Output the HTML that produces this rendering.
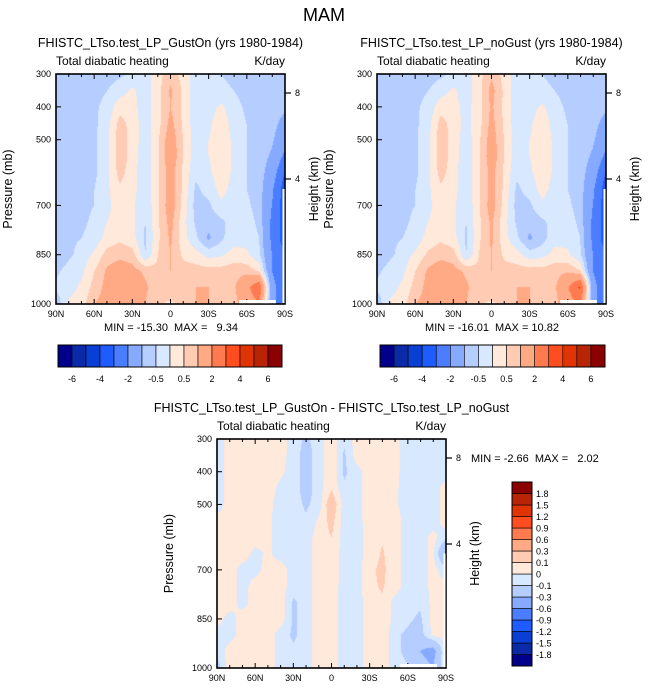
<!DOCTYPE html>
<html><head><meta charset="utf-8">
<style>
html,body{margin:0;padding:0;background:#fff;}
#root{position:relative;width:648px;height:693px;overflow:hidden;font-family:"Liberation Sans",Arial,sans-serif;}
canvas{position:absolute;}
svg{position:absolute;left:0;top:0;}
text{white-space:pre;}
</style></head>
<body>
<div id="root">
<canvas id="c1" width="229" height="230" style="left:56px;top:74px"></canvas>
<canvas id="c2" width="229" height="230" style="left:377px;top:74px"></canvas>
<canvas id="c3" width="229" height="229" style="left:217px;top:439px"></canvas>
<svg id="ov" width="648" height="693"></svg>
</div>
<script>
// ---- data ----
const latLabels = ["90N","60N","30N","0","30S","60S","90S"];
const pressureTicks = [300,400,500,700,850,1000];
const lats = [90,80,70,60,50,40,30,20,10,0,-10,-20,-30,-40,-50,-60,-70,-80,-90];
const levelsP = [300,350,400,450,500,550,600,650,700,750,800,850,900,950,1000];
const levelsMain = [-6,-5,-4,-3,-2,-1,-0.5,0,0.5,1,2,3,4,5,6];
const mainBarLabels = ["-6","-4","-2","-0.5","0.5","2","4","6"];
const levelsDiff = [-1.8,-1.5,-1.2,-0.9,-0.6,-0.3,-0.1,0,0.1,0.3,0.6,0.9,1.2,1.5,1.8];
const diffBarLabels = ["-1.8","-1.5","-1.2","-0.9","-0.6","-0.3","-0.1","0","0.1","0.3","0.6","0.9","1.2","1.5","1.8"];
const colors = ["#00008b","#0a2aa8","#0a3fd6","#1f5cff","#4a7eff","#86aaff","#b5cdff","#d8e8ff","#ffe9da","#ffcbb3","#ffa985","#ff7a4f","#ff4d1f","#e03405","#b82506","#8b0000"];
const heightTicks = [8,4];
const heightTickY = [93,179];
const statsA = ["-15.30","9.34"];
const statsB = ["-16.01","10.82"];
const statsC = ["-2.66","2.02"];
const gridA = [
[-0.7,-0.7,-0.7,-0.7,-0.7,-0.6,-0.4,-0.3,0.3,0.8,0.3,-0.3,-0.4,-0.5,-0.6,-0.7,-0.7,-0.7,-0.8],
[-0.7,-0.7,-0.7,-0.7,-0.5,-0.2,0.1,-0.3,0.3,1.1,0.4,-0.3,-0.3,-0.4,-0.5,-0.7,-0.7,-0.7,-0.8],
[-0.7,-0.7,-0.7,-0.6,-0.3,0.3,0.2,-0.3,0.3,1.0,0.4,-0.3,-0.2,0.1,-0.3,-0.6,-0.7,-0.7,-0.9],
[-0.7,-0.7,-0.7,-0.6,-0.2,0.7,0.3,-0.3,0.3,1.2,0.4,-0.3,-0.1,0.3,-0.2,-0.5,-0.7,-0.8,-1.2],
[-0.7,-0.7,-0.7,-0.6,-0.1,0.8,0.3,-0.3,0.4,1.4,0.5,-0.3,0.0,0.3,-0.1,-0.5,-0.7,-0.9,-1.5],
[-0.7,-0.7,-0.7,-0.6,-0.1,0.8,0.3,-0.4,0.4,1.5,0.5,-0.3,0.0,0.3,-0.1,-0.5,-0.7,-1.1,-2.2],
[-0.7,-0.7,-0.7,-0.6,-0.1,0.7,0.2,-0.4,0.4,1.3,0.4,-0.4,-0.1,0.3,-0.1,-0.5,-0.7,-1.4,-3],
[-0.7,-0.7,-0.6,-0.5,-0.1,0.4,0.2,-0.4,0.4,1.3,0.4,-0.6,-0.3,0.2,-0.2,-0.5,-0.7,-1.8,-3.5],
[-0.7,-0.7,-0.6,-0.5,-0.1,0.2,0.1,-0.4,0.4,1.4,0.3,-0.7,-0.6,-0.1,-0.3,-0.4,-0.7,-2,-3.5],
[-0.7,-0.7,-0.6,-0.4,0.0,0.2,0.1,-0.5,0.4,1.2,0.2,-0.6,-0.8,-0.6,-0.3,-0.3,-0.6,-2.2,-3.5],
[-0.7,-0.6,-0.5,-0.3,0.2,0.4,0.2,-0.6,0.4,1.1,0.2,-0.4,-1.1,-0.6,-0.2,-0.2,-0.5,-2.2,-3.5],
[-0.9,-0.6,-0.3,0.1,0.7,0.8,0.7,-0.5,0.5,1.0,0.4,0.2,-0.2,-0.1,0.2,0.1,-0.4,-2,-3],
[-0.6,-0.3,-0.1,0.5,1.1,1.4,1.2,0.9,0.6,1.0,0.7,0.7,0.7,0.7,0.8,0.8,0.4,-2,-3],
[-0.4,-0.2,0.1,0.7,1.2,1.7,1.4,1.1,0.7,0.9,0.9,1.0,1.0,0.9,0.9,1.7,2.8,-1.5,-3],
[-0.8,0.1,0.3,1.0,1.2,1.3,1.2,1.0,0.6,0.4,0.7,1.0,1.0,0.9,0.8,1.4,2.0,-1.5,-3]];
const gridB = [
[-0.7,-0.7,-0.7,-0.7,-0.7,-0.6,-0.4,-0.3,0.3,0.9,0.3,-0.3,-0.4,-0.5,-0.6,-0.7,-0.7,-0.7,-0.8],
[-0.7,-0.7,-0.7,-0.7,-0.5,-0.2,0.1,-0.3,0.3,1.2,0.4,-0.3,-0.3,-0.4,-0.5,-0.7,-0.7,-0.7,-0.8],
[-0.7,-0.7,-0.7,-0.6,-0.3,0.3,0.2,-0.2,0.3,1.1,0.4,-0.3,-0.2,0.1,-0.3,-0.6,-0.7,-0.7,-0.9],
[-0.7,-0.7,-0.7,-0.6,-0.2,0.7,0.3,-0.2,0.3,1.2,0.4,-0.3,-0.1,0.3,-0.2,-0.5,-0.7,-0.8,-1.2],
[-0.7,-0.7,-0.7,-0.6,-0.1,0.8,0.3,-0.3,0.4,1.3,0.5,-0.3,0.0,0.3,-0.1,-0.5,-0.7,-0.9,-1.5],
[-0.7,-0.7,-0.7,-0.6,-0.1,0.8,0.3,-0.4,0.4,1.4,0.5,-0.3,0.0,0.3,-0.1,-0.5,-0.7,-1.1,-2.2],
[-0.7,-0.7,-0.7,-0.6,-0.1,0.7,0.2,-0.4,0.4,1.2,0.4,-0.4,-0.1,0.3,-0.1,-0.5,-0.7,-1.4,-3],
[-0.7,-0.7,-0.6,-0.5,-0.1,0.4,0.2,-0.4,0.4,1.2,0.4,-0.6,-0.3,0.2,-0.2,-0.5,-0.7,-1.8,-3.5],
[-0.7,-0.7,-0.6,-0.5,-0.1,0.2,0.1,-0.4,0.4,1.3,0.3,-0.7,-0.6,-0.1,-0.3,-0.4,-0.7,-2,-3.5],
[-0.7,-0.7,-0.6,-0.4,0.0,0.2,0.1,-0.5,0.4,1.1,0.2,-0.6,-0.8,-0.6,-0.3,-0.3,-0.6,-2.2,-3.5],
[-0.7,-0.6,-0.5,-0.3,0.2,0.4,0.2,-0.6,0.4,1.1,0.2,-0.4,-1.1,-0.7,-0.2,-0.2,-0.5,-2.2,-3.5],
[-0.9,-0.6,-0.3,0.1,0.6,0.8,0.7,-0.5,0.5,1.0,0.4,0.2,-0.3,-0.2,0.2,0.1,-0.4,-2,-3],
[-0.6,-0.3,-0.1,0.5,1.1,1.4,1.2,0.9,0.6,1.0,0.7,0.7,0.7,0.7,0.8,0.9,0.5,-2,-3],
[-0.4,-0.2,0.1,0.7,1.2,1.7,1.4,1.1,0.7,0.9,0.9,1.0,1.0,0.9,0.9,1.9,3.2,-1.5,-3],
[-0.8,0.1,0.3,1.0,1.2,1.3,1.2,1.0,0.6,0.4,0.7,1.0,1.0,0.9,0.8,1.5,2.2,-1.5,-3]];
const gridC = [
[-0.05,0.05,0.05,0.05,0.05,0.05,-0.05,-0.12,-0.05,0.06,-0.08,0.05,0.05,0.05,0.04,-0.05,-0.05,-0.05,-0.05],
[-0.05,0.05,0.05,0.05,0.05,0.04,-0.05,-0.15,-0.05,0.08,-0.12,0.05,0.05,0.05,0.04,-0.05,-0.05,-0.05,-0.05],
[-0.05,0.05,0.05,0.05,0.05,0.02,-0.05,-0.15,-0.05,0.08,-0.12,-0.04,0.05,0.05,0.03,-0.05,-0.05,-0.05,-0.05],
[-0.05,0.05,0.05,0.05,0.05,-0.03,-0.05,-0.15,-0.05,0.09,-0.08,-0.04,0.05,0.05,0.02,-0.05,-0.05,-0.05,0.04],
[-0.05,0.05,0.05,0.05,0.03,-0.05,-0.05,-0.12,-0.05,0.2,-0.05,-0.04,0.05,0.05,0.02,-0.05,-0.05,-0.05,0.04],
[0.04,0.05,0.05,0.05,0.02,-0.05,-0.05,-0.08,0.02,0.14,-0.05,-0.04,0.05,0.08,0.05,-0.05,-0.05,-0.05,0.04],
[0.04,0.05,0.05,0.05,0.02,-0.05,-0.05,-0.05,0.05,0.1,-0.05,-0.05,0.05,0.09,0.05,-0.05,-0.05,0.03,-0.05],
[0.04,0.05,0.05,-0.03,0.02,-0.05,-0.05,-0.05,0.05,0.08,-0.05,-0.05,0.05,0.11,0.05,-0.05,-0.05,0.03,-0.3],
[0.04,0.05,-0.04,-0.04,0.05,0.05,-0.05,-0.05,0.05,0.08,-0.05,-0.05,0.08,0.12,0.05,-0.05,-0.05,0.03,-0.05],
[0.04,0.05,-0.04,0.05,0.09,0.05,-0.05,-0.05,0.05,0.06,-0.05,-0.05,0.08,0.11,0.05,-0.05,-0.05,0.03,0.03],
[0.04,0.05,-0.04,0.05,0.09,0.05,-0.12,-0.05,0.05,0.05,-0.05,-0.05,0.05,0.09,-0.04,-0.05,-0.08,0.03,0.03],
[0.04,-0.04,0.05,0.05,0.09,0.05,-0.12,-0.05,0.05,0.05,-0.05,-0.05,0.05,0.1,-0.04,-0.08,-0.12,0.03,0.03],
[-0.05,-0.04,0.05,0.05,0.05,-0.05,-0.12,-0.05,0.05,0.05,-0.05,-0.05,0.05,0.09,-0.08,-0.12,-0.15,0.03,0.03],
[-0.06,0.05,0.05,0.05,0.05,-0.05,-0.08,-0.05,0.05,0.05,-0.05,-0.05,0.05,0.05,-0.05,-0.15,-0.3,-0.4,0.03],
[-0.15,0.08,0.09,0.05,0.05,-0.05,-0.05,-0.05,0.05,0.05,-0.05,-0.05,0.05,0.05,-0.05,-0.08,-0.2,-0.3,0.03]];

// ---- rendering ----
function hex(c){return [parseInt(c.substr(1,2),16),parseInt(c.substr(3,2),16),parseInt(c.substr(5,2),16)];}
function fill(id,grid,levels){
  const cv=document.getElementById(id),ctx=cv.getContext('2d');
  const W=cv.width,H=cv.height,img=ctx.createImageData(W,H);
  const rgb=colors.map(hex);
  const nx=lats.length-1, ny=levelsP.length-1;
  for(let y=0;y<H;y++){
    const p=300+700*y/(H-1);
    let fy=(p-levelsP[0])/(levelsP[ny]-levelsP[0])*ny; let j=Math.min(ny-1,Math.floor(fy)); let ty=fy-j;
    for(let x=0;x<W;x++){
      const lat=90-180*x/(W-1);
      let fx=(90-lat)/180*nx; let i=Math.min(nx-1,Math.floor(fx)); let tx=fx-i;
      const v=(grid[j][i]*(1-tx)+grid[j][i+1]*tx)*(1-ty)+(grid[j+1][i]*(1-tx)+grid[j+1][i+1]*tx)*ty;
      let k=0; while(k<levels.length&&v>=levels[k])k++;
      const c=rgb[k],o=(y*W+x)*4;
      img.data[o]=c[0];img.data[o+1]=c[1];img.data[o+2]=c[2];img.data[o+3]=255;
    }
  }
  ctx.putImageData(img,0,0);
}
fill('c1',gridA,levelsMain);
fill('c2',gridB,levelsMain);
fill('c3',gridC,levelsDiff);

const NS='http://www.w3.org/2000/svg', ov=document.getElementById('ov');
function el(tag,attrs,parent){const e=document.createElementNS(NS,tag);for(const k in attrs)e.setAttribute(k,attrs[k]);(parent||ov).appendChild(e);return e;}
function txt(s,x,y,size,anchor,parent,extra){const t=el('text',Object.assign({x:x,y:y,'font-size':size,'text-anchor':anchor||'start',fill:'#000'},extra||{}),parent);t.textContent=s;return t;}

const t0=txt('MAM',324,21,18,'middle');



function panel(x0,y0,w,h,title,stats,statsPos,name){
  const g=el('g',{});
  
  
  const tt=txt(title,x0+w/2,y0-27,12.5,'middle',g);
  
  
  const st=txt('Total diabatic heating',x0,y0-9,12,'start',g);
  
  
  const un=txt('K/day',x0+w,y0-9,12,'end',g);
  
  
  el('rect',{x:x0,y:y0,width:w,height:h,fill:'none',stroke:'#000','stroke-width':1.6},g);
  for(let d=0;d<=180;d+=10){
    const x=x0+w*d/180, len=(d%30===0)?5:3;
    el('line',{x1:x,y1:y0+h,x2:x,y2:y0+h-len,stroke:'#000','stroke-width':1},g);
    el('line',{x1:x,y1:y0,x2:x,y2:y0+len,stroke:'#000','stroke-width':1},g);
  }
  latLabels.forEach((s,i)=>{
    const l=txt(s,x0+w*i/6,y0+h+13,9,'middle',g);
    
    
  });
  pressureTicks.forEach(p=>{
    const y=y0+h*(p-300)/700;
    el('line',{x1:x0,y1:y,x2:x0+5,y2:y,stroke:'#000','stroke-width':1},g);
    const l=txt(String(p),x0-5,y+3,9,'end',g);
    
    
  });
  heightTicks.forEach((hk,i)=>{
    const y=y0+(heightTickY[i]-74);
    el('line',{x1:x0+w,y1:y,x2:x0+w+6,y2:y,stroke:'#000','stroke-width':1.2},g);
    const l=txt(String(hk),x0+w+10,y+3,9,'start',g);
    
    
  });
  const ya=txt('Pressure (mb)',0,0,12.5,'middle',g,{transform:'translate('+(x0-44)+','+(y0+h/2)+') rotate(-90)'});
  
  
  const yb=txt('Height (km)',0,0,12.5,'middle',g,{transform:'translate('+(x0+w+33)+','+(y0+h/2)+') rotate(-90)'});
  
  
  el('rect',{x:x0+w*0.80,y:y0+h-4,width:w*0.16,height:3.2,fill:'#fff'},g);
  el('rect',{x:x0+w-2.5,y:y0+h*0.5,width:2,height:h*0.5-1,fill:'#fff'},g);
  const mm=txt('MIN = '+stats[0]+'  MAX = '+(stats[1].length<5?'  ':'')+stats[1],statsPos[0],statsPos[1],11,statsPos[2],g);
  
  
}
panel(56,74,229,230,'FHISTC_LTso.test_LP_GustOn (yrs 1980-1984)',statsA,[171,331,'middle'],'panel-gust-on');
panel(377,74,229,230,'FHISTC_LTso.test_LP_noGust (yrs 1980-1984)',statsB,[492,331,'middle'],'panel-no-gust');
panel(217,439,229,229,'FHISTC_LTso.test_LP_GustOn - FHISTC_LTso.test_LP_noGust',statsC,[471,462,'start'],'panel-difference');

function hbar(x0,y0,w,h,name){
  const g=el('g',{});
  
  
  const bw=w/colors.length;
  colors.forEach((c,i)=>{
    const r=el('rect',{x:x0+i*bw,y:y0,width:bw,height:h,fill:c,stroke:'#000','stroke-width':0.6},g);
    
    
  });
  el('rect',{x:x0,y:y0,width:w,height:h,fill:'none',stroke:'#000','stroke-width':1},g);
  mainBarLabels.forEach((s,i)=>{
    const l=txt(s,x0+bw*(1+2*i),y0+h+15,9,'middle',g);
    
    
  });
}
hbar(58,345,224,22,'colorbar-gust-on');
hbar(380,345,225,22,'colorbar-no-gust');

(function(){
  const x0=512,y0=482,w=20,h=184;
  const g=el('g',{});
  
  
  const bh=h/colors.length;
  colors.forEach((c,i)=>{
    const r=el('rect',{x:x0,y:y0+h-(i+1)*bh,width:w,height:bh,fill:c,stroke:'#000','stroke-width':0.6},g);
    
    
  });
  el('rect',{x:x0,y:y0,width:w,height:h,fill:'none',stroke:'#000','stroke-width':1},g);
  diffBarLabels.forEach((s,i)=>{
    const l=txt(s,x0+w+4,y0+h-(i+1)*bh+3.5,9,'start',g);
    
    
  });
})();
</script>
</body></html>
